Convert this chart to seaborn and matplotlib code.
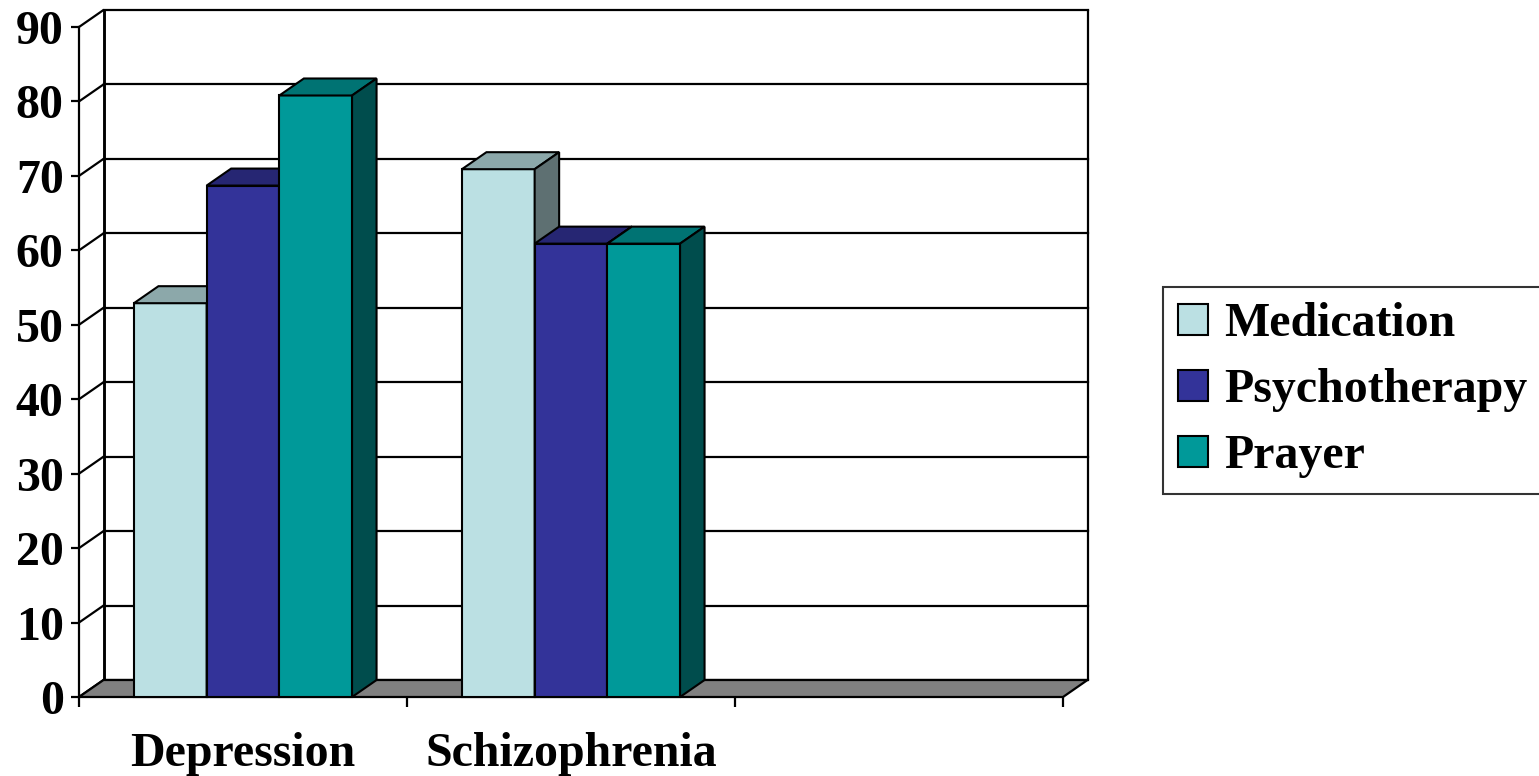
import matplotlib
matplotlib.use("Agg")
import matplotlib.pyplot as plt
from matplotlib.patches import Polygon, Patch
from matplotlib.colors import to_rgb
import seaborn as sns
import pandas as pd
import numpy as np

# Survey results (percent) by condition and treatment
conditions = ["Depression", "Schizophrenia"]
treatments = ["Medication", "Psychotherapy", "Prayer"]
depression = [52.9, 68.7, 80.8]
schizophrenia = [70.9, 60.9, 60.9]
y_ticks = [0, 10, 20, 30, 40, 50, 60, 70, 80, 90]

front_colors = ["#BBE0E3", "#333399", "#009999"]

df = pd.DataFrame({
    "Condition": [c for c in conditions for _ in treatments],
    "Treatment": treatments * len(conditions),
    "Percent": depression + schizophrenia,
})

sns.set_style("white")
plt.rcParams["font.family"] = ["Liberation Serif", "DejaVu Serif"]
plt.rcParams["font.weight"] = "bold"
plt.rcParams["text.color"] = "black"
plt.rcParams["xtick.color"] = "black"
plt.rcParams["ytick.color"] = "black"
plt.rcParams["xtick.labelcolor"] = "black"
plt.rcParams["ytick.labelcolor"] = "black"

FS = 34.5

W, H = 1539, 776
fig = plt.figure(figsize=(W / 100, H / 100), dpi=100)
ax_left, ax_bottom, ax_w, ax_h = 79, 79, 984, 670
ax = fig.add_axes([ax_left / W, ax_bottom / H, ax_w / W, ax_h / H])

n_slots = 3  # two labelled categories plus an empty slot
sns.barplot(data=df, x="Condition", y="Percent", hue="Treatment",
            order=conditions + [""], hue_order=treatments,
            palette=front_colors, width=0.665, edgecolor="black",
            linewidth=1.5, saturation=1, ax=ax, legend=False)

ax.set_xlim(-0.5, n_slots - 0.5)
ax.set_ylim(0, 90)

# depth offset of the 3D box, in data units
DX = 24.5 * n_slots / ax_w
DY = 17 * 90 / ax_h
x0, x1 = -0.5, n_slots - 0.5
lw = 1.6

# back wall and side wall gridlines
for v in y_ticks:
    ax.plot([x0 + DX, x1 + DX], [v + DY, v + DY], color="black", lw=lw,
            clip_on=False, zorder=1, solid_capstyle="projecting")
    ax.plot([x0, x0 + DX], [v, v + DY], color="black", lw=lw,
            clip_on=False, zorder=1)
ax.plot([x0 + DX, x0 + DX], [DY, 90 + DY], color="black", lw=lw * 1.3,
        clip_on=False, zorder=1)
ax.plot([x1 + DX, x1 + DX], [DY, 90 + DY], color="black", lw=lw,
        clip_on=False, zorder=1)

# floor
floor = Polygon([(x0, 0), (x1, 0), (x1 + DX, DY), (x0 + DX, DY)],
                closed=True, facecolor="#808080", edgecolor="black",
                lw=lw, clip_on=False, zorder=1.5)
ax.add_patch(floor)

# give each column a top and a side face, painted left to right
bars = sorted([p for p in ax.patches if isinstance(p, matplotlib.patches.Rectangle)
               and p.get_height() > 0],
              key=lambda p: p.get_x())
for k, p in enumerate(bars):
    bx, bw, bh = p.get_x(), p.get_width(), p.get_height()
    base = np.array(to_rgb(p.get_facecolor()))
    z = 3 + 0.1 * k
    p.set_zorder(z)
    p.set_clip_on(False)
    top = Polygon([(bx, bh), (bx + bw, bh), (bx + bw + DX, bh + DY), (bx + DX, bh + DY)],
                  closed=True, facecolor=base * 0.75, edgecolor="black",
                  lw=1.5, clip_on=False, zorder=z + 0.01, joinstyle="miter")
    side = Polygon([(bx + bw, 0), (bx + bw + DX, DY), (bx + bw + DX, bh + DY), (bx + bw, bh)],
                   closed=True, facecolor=base * 0.5, edgecolor="black",
                   lw=1.5, clip_on=False, zorder=z + 0.02, joinstyle="miter")
    ax.add_patch(top)
    ax.add_patch(side)

# axes, ticks and labels
for s in ["top", "right", "bottom"]:
    ax.spines[s].set_visible(False)
ax.spines["left"].set_linewidth(lw)
ax.spines["left"].set_color("black")
ax.spines["left"].set_zorder(2)

ax.set_yticks(y_ticks)
ax.set_yticklabels([str(v) for v in y_ticks])
ax.tick_params(axis="y", direction="out", length=6, width=lw, pad=5,
               labelsize=FS, left=True, color="black", labelcolor="black")
ax.set_xticks(range(n_slots))
ax.set_xticklabels(conditions + [""])
ax.set_xticks(np.arange(-0.5, n_slots, 1.0), minor=True)
ax.tick_params(axis="x", which="major", length=0, pad=25, labelsize=FS,
               labelcolor="black")
ax.tick_params(axis="x", which="minor", direction="out", length=7.5,
               width=lw, bottom=True, color="black")
for t in ax.get_xticklabels() + ax.get_yticklabels():
    t.set_fontweight("bold")
ax.set_xlabel("")
ax.set_ylabel("")
ax.set_facecolor("none")

# legend
handles = [Patch(facecolor=c, edgecolor="black", lw=1.5) for c in front_colors]
leg = fig.legend(handles, treatments, loc="upper left",
                 bbox_to_anchor=(1163 / W, 1 - 287 / H),
                 prop={"size": FS, "weight": "bold"}, frameon=True,
                 fancybox=False, borderaxespad=0, borderpad=0.32,
                 handlelength=0.62, handleheight=0.62, handletextpad=0.33,
                 labelspacing=0.46)
leg.get_frame().set_edgecolor("black")
leg.get_frame().set_linewidth(1.5)
for t in leg.get_texts():
    t.set_color("black")

fig.savefig("out.png", dpi=100, facecolor="white")
